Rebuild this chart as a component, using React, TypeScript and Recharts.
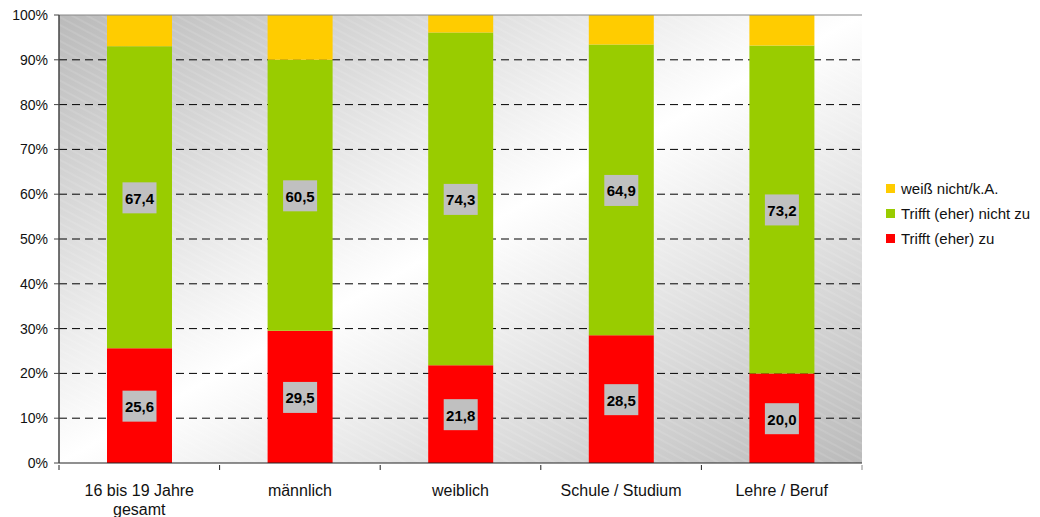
import { BarChart, Bar, XAxis, YAxis, CartesianGrid, LabelList, ReferenceLine } from 'recharts';

const categories = ['16 bis 19 Jahre\ngesamt', 'männlich', 'weiblich', 'Schule / Studium', 'Lehre / Beruf'];
const zuValues = [25.6, 29.5, 21.8, 28.5, 20.0];
const nichtZuValues = [67.4, 60.5, 74.3, 64.9, 73.2];
const weissNichtValues = [7.0, 10.0, 3.9, 6.6, 6.8];
const yTicks = [0, 10, 20, 30, 40, 50, 60, 70, 80, 90, 100];
const gridValues = [10, 20, 30, 40, 50, 60, 70, 80, 90];

const seriesInfo = [
  { key: 'weiss', name: 'weiß nicht/k.A.', color: '#FFCC00' },
  { key: 'nicht', name: 'Trifft (eher) nicht zu', color: '#99CC00' },
  { key: 'zu', name: 'Trifft (eher) zu', color: '#FF0000' },
];

const data = categories.map((c, i) => ({
  name: c,
  zu: zuValues[i],
  nicht: nichtZuValues[i],
  weiss: weissNichtValues[i],
}));

const W = 1040;
const H = 517;
const M = { top: 15, right: 178, left: 0, bottom: 0 };
const Y_W = 59;
const FONT = '"Liberation Sans", Arial, Helvetica, sans-serif';
const bandW = (W - M.left - M.right - Y_W) / categories.length;

const ValueLabel = (props: any) => {
  const { x, y, width, height, value } = props;
  const cx = x + width / 2;
  const cy = y + height / 2;
  return (
    <g>
      <rect x={cx - 17} y={cy - 15} width={34} height={31} fill="#C0C0C0" />
      <text x={cx} y={cy + 1} textAnchor="middle" dominantBaseline="central" fontFamily={FONT} fontWeight="bold" fontSize={15} fill="#000">
        {Number(value).toFixed(1).replace('.', ',')}
      </text>
    </g>
  );
};

const CategoryTick = (props: any) => {
  const { x, y, payload, index } = props;
  const lines = String(payload.value).split('\n');
  const left = x - bandW / 2;
  const right = x + bandW / 2;
  return (
    <g>
      <line x1={left} y1={y} x2={left} y2={y + 5} stroke="#222" />
      {index === categories.length - 1 && <line x1={right} y1={y} x2={right} y2={y + 5} stroke="#888" />}
      <text x={x} y={y + 31} textAnchor="middle" fontFamily={FONT} fontSize={16} fill="#111">
        {lines.map((l, i) => (
          <tspan key={i} x={x} dy={i === 0 ? 0 : 19}>
            {l}
          </tspan>
        ))}
      </text>
    </g>
  );
};

const LegendBox = () => (
  <div style={{ position: 'absolute', left: 886, top: 176, fontFamily: FONT, fontSize: 15, color: '#111' }}>
    {seriesInfo.map((s) => (
      <div key={s.key} style={{ display: 'flex', alignItems: 'center', height: 25, whiteSpace: 'nowrap' }}>
        <span style={{ display: 'inline-block', width: 9, height: 9, background: s.color, marginRight: 6 }} />
        <span>{s.name}</span>
      </div>
    ))}
  </div>
);

export default function App() {
  return (
    <div style={{ position: 'absolute', left: 0, top: 0, width: W, height: H, background: '#fff' }}>
      <BarChart width={W} height={H} data={data} margin={M}>
        <defs>
          <linearGradient id="bgGrad" x1="0" y1="0" x2="1" y2="1">
            <stop offset="0" stopColor="#bababa" />
            <stop offset="0.5" stopColor="#ffffff" />
            <stop offset="1" stopColor="#bababa" />
          </linearGradient>
          <pattern id="hatch" width="7" height="7" patternUnits="userSpaceOnUse" patternTransform="rotate(28)">
            <line x1="0" y1="1" x2="7" y2="1" stroke="#ffffff" strokeOpacity={0.2} strokeWidth={1} />
          </pattern>
        </defs>
        <CartesianGrid fill="url(#bgGrad)" horizontal={false} vertical={false} />
        <CartesianGrid
          fill="url(#hatch)"
          vertical={false}
          horizontalValues={gridValues}
          stroke="#000"
          strokeDasharray="8 5"
        />
        <XAxis dataKey="name" tick={<CategoryTick />} tickLine={false} tickSize={0} height={54} axisLine={{ stroke: '#222' }} interval={0} />
        <YAxis
          width={Y_W}
          domain={[0, 100]}
          ticks={yTicks}
          tickFormatter={(v: number) => `${v}%`}
          tick={{ fontFamily: FONT, fontSize: 14, fill: '#111' }}
          tickSize={5}
          tickMargin={6}
          axisLine={{ stroke: '#444', strokeWidth: 1.5 }}
          tickLine={{ stroke: '#444' }}
          interval={0}
        />
        <YAxis yAxisId="right" orientation="right" width={0} domain={[0, 100]} tick={false} tickLine={false} axisLine={{ stroke: '#888' }} />
        <ReferenceLine y={100} stroke="#888" />
        <Bar dataKey="zu" name="Trifft (eher) zu" stackId="a" fill="#FF0000" barSize={65} isAnimationActive={false}>
          <LabelList dataKey="zu" content={<ValueLabel />} />
        </Bar>
        <Bar dataKey="nicht" name="Trifft (eher) nicht zu" stackId="a" fill="#99CC00" barSize={65} isAnimationActive={false}>
          <LabelList dataKey="nicht" content={<ValueLabel />} />
        </Bar>
        <Bar dataKey="weiss" name="weiß nicht/k.A." stackId="a" fill="#FFCC00" barSize={65} isAnimationActive={false} />
      </BarChart>
      <LegendBox />
    </div>
  );
}
